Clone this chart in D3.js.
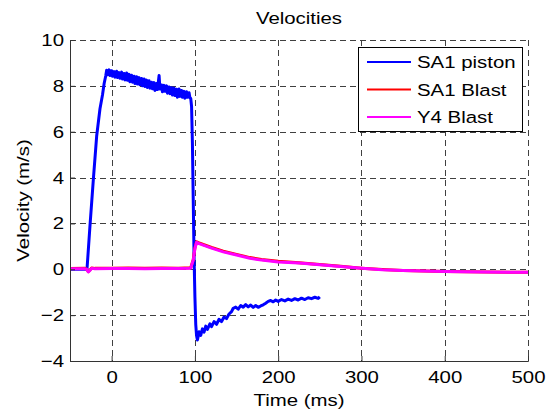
<!DOCTYPE html>
<html>
<head>
<meta charset="utf-8">
<script src="https://cdn.jsdelivr.net/npm/d3@7"></script>
<style>
  body { margin: 0; background: #fff; }
  text { font-family: "Liberation Sans", Arial, sans-serif; fill: #000; }
</style>
</head>
<body>
<svg id="chart" width="554" height="414"></svg>
<script>
// values
const pistonT = [-50, -30, -29.5, -26, -22, -18, -14, -11, -9, -7, -6, -5, -3, -2, 0, 1, 3, 4, 6, 7, 9, 10, 12, 13, 15, 16, 18, 19, 21, 22, 24, 25, 27, 28, 30, 31, 33, 34, 36, 37, 39, 40, 42, 43, 45, 46, 48, 49, 51, 52, 54, 55, 57, 58, 60, 61, 63, 64, 66, 67, 69, 70, 72, 73, 75, 76, 78, 79, 81, 82, 84, 85, 87, 88, 90, 91, 93, 94, 95, 96, 97, 98, 99, 100, 101, 102, 103, 104, 105, 107, 109, 111, 113, 115, 118, 120, 123, 126, 129, 132, 135, 138, 141, 144, 146, 149, 152, 155, 158, 161, 164, 167, 170, 173, 176, 179, 182, 185, 188, 191, 194, 197, 200, 204, 208, 212, 216, 220, 224, 228, 232, 236, 240, 244, 248, 250];
const pistonV = [0, 0, 0.05, 1.9, 3.9, 5.8, 7.0, 7.6, 8.1, 8.45, 8.68, 8.48, 8.7, 8.45, 8.66, 8.42, 8.62, 8.38, 8.64, 8.36, 8.58, 8.33, 8.6, 8.3, 8.54, 8.26, 8.56, 8.24, 8.5, 8.18, 8.46, 8.16, 8.42, 8.1, 8.4, 8.08, 8.36, 8.05, 8.32, 8.0, 8.3, 7.97, 8.25, 7.93, 8.22, 7.9, 8.16, 7.87, 8.14, 7.8, 8.1, 7.84, 8.45, 7.86, 8.04, 7.74, 8.02, 7.76, 8.0, 7.68, 7.95, 7.66, 7.92, 7.6, 7.9, 7.58, 7.85, 7.5, 7.86, 7.54, 7.8, 7.5, 7.76, 7.46, 7.74, 7.5, 7.7, 7.48, 7.45, 7.1, 5.5, 3.0, 0.5, -1.2, -2.4, -2.9, -3.08, -2.92, -2.72, -2.88, -2.6, -2.74, -2.48, -2.62, -2.38, -2.5, -2.28, -2.4, -2.18, -2.28, -2.08, -2.15, -1.95, -1.85, -1.7, -1.65, -1.74, -1.58, -1.65, -1.54, -1.64, -1.56, -1.66, -1.58, -1.66, -1.6, -1.55, -1.48, -1.4, -1.36, -1.42, -1.34, -1.4, -1.32, -1.38, -1.3, -1.36, -1.28, -1.34, -1.26, -1.32, -1.24, -1.28, -1.22, -1.27, -1.2, -1.22];

const sa1BlastT = [-50, -32, -30, -28, -26, -24, -20, 0, 20, 40, 60, 80, 95, 98, 100, 102, 105, 110, 120, 134, 150, 166, 180, 200, 225, 250, 275, 300, 325, 350, 375, 400, 450, 500];
const sa1BlastV = [0.03, 0.04, 0.01, -0.1, -0.03, 0.06, 0.04, 0.05, 0.06, 0.04, 0.06, 0.05, 0.07, 0.42, 0.93, 1.2, 1.15, 1.08, 0.95, 0.79, 0.65, 0.51, 0.43, 0.35, 0.29, 0.21, 0.13, 0.05, -0.01, -0.05, -0.08, -0.1, -0.12, -0.13];

const y4BlastT = [-50, -32, -30, -28, -26, -24, -20, 0, 20, 40, 60, 80, 95, 98, 100, 102, 105, 110, 120, 134, 150, 166, 180, 200, 225, 250, 275, 300, 325, 350, 375, 400, 450, 500];
const y4BlastV = [0.02, 0.02, 0.0, -0.12, -0.05, 0.04, 0.02, 0.03, 0.03, 0.02, 0.03, 0.03, 0.05, 0.4, 0.9, 1.18, 1.12, 1.05, 0.92, 0.76, 0.62, 0.48, 0.4, 0.32, 0.27, 0.2, 0.12, 0.04, -0.02, -0.05, -0.08, -0.1, -0.12, -0.13];

const seriesNames = ["SA1 piston", "SA1 Blast", "Y4 Blast"];
const seriesColors = ["#0000ff", "#ff0000", "#ff00ff"];
const xTicks = [0, 100, 200, 300, 400, 500];
const yTicks = [-4, -2, 0, 2, 4, 6, 8, 10];

const margin = {top: 40, right: 26, bottom: 53, left: 70};
const width = 554, height = 414;
const innerW = width - margin.left - margin.right;
const innerH = height - margin.top - margin.bottom;
const stretch = "scale(1.2,1)";

const svg = d3.select("#chart");
const chart = svg.append("g")
    .attr("transform", `translate(${margin.left},${margin.top})`);

const xscale = d3.scaleLinear().domain([-50, 500]).range([0, innerW]);
const yscale = d3.scaleLinear().domain([-4, 10]).range([innerH, 0]);

// dashed grid
chart.append("g").selectAll("line")
    .data(xTicks)
    .join("line")
    .attr("x1", d => Math.round(xscale(d)) + 0.5)
    .attr("x2", d => Math.round(xscale(d)) + 0.5)
    .attr("y1", 0).attr("y2", innerH)
    .attr("stroke", "#404040").attr("stroke-dasharray", "6,4");
chart.append("g").selectAll("line")
    .data(yTicks)
    .join("line")
    .attr("y1", d => Math.round(yscale(d)) + 0.5)
    .attr("y2", d => Math.round(yscale(d)) + 0.5)
    .attr("x1", 0).attr("x2", innerW)
    .attr("stroke", "#404040").attr("stroke-dasharray", "6,4");

// series
const line = d3.line().x(d => xscale(d[0])).y(d => yscale(d[1]));
const series = [
    d3.zip(pistonT, pistonV),
    d3.zip(sa1BlastT, sa1BlastV),
    d3.zip(y4BlastT, y4BlastV)
];
series.forEach((s, i) => {
    chart.append("path")
        .datum(s)
        .attr("d", line)
        .attr("fill", "none")
        .attr("stroke", seriesColors[i])
        .attr("stroke-width", 3)
        .attr("stroke-linejoin", "round");
});

// axes
const xaxis = d3.axisBottom(xscale).tickValues(xTicks).tickSize(-5).tickPadding(10);
const yaxis = d3.axisLeft(yscale).tickValues(yTicks).tickSize(-5).tickPadding(5);

const xg = chart.append("g")
    .attr("transform", `translate(0,${innerH})`)
    .call(xaxis);
const yg = chart.append("g").call(yaxis);

[xg, yg].forEach(g => {
    g.select(".domain").attr("stroke", "#333");
    g.selectAll(".tick line").attr("stroke", "#333");
    g.selectAll(".tick text")
        .attr("font-size", 17)
        .attr("font-family", "Liberation Sans, Arial, sans-serif")
        .attr("fill", "#000")
        .attr("transform", stretch);
});

// titles
svg.append("text")
    .attr("transform", `translate(${margin.left + innerW / 2},24) ${stretch}`)
    .attr("text-anchor", "middle")
    .attr("font-size", 17)
    .text("Velocities");

svg.append("text")
    .attr("transform", `translate(${margin.left + innerW / 2},406) ${stretch}`)
    .attr("text-anchor", "middle")
    .attr("font-size", 17)
    .text("Time (ms)");

svg.append("text")
    .attr("transform", `translate(29,${margin.top + innerH / 2}) rotate(-90) ${stretch}`)
    .attr("text-anchor", "middle")
    .attr("font-size", 17)
    .text("Velocity (m/s)");

// legend
const legend = svg.append("g").attr("transform", "translate(358,47)");
legend.append("rect")
    .attr("x", 0.5).attr("y", 0.5)
    .attr("width", 164).attr("height", 84)
    .attr("fill", "#fff").attr("stroke", "#000");
seriesNames.forEach((name, i) => {
    const y = 15 + i * 27.5;
    legend.append("line")
        .attr("x1", 9).attr("x2", 53)
        .attr("y1", y).attr("y2", y)
        .attr("stroke", seriesColors[i]).attr("stroke-width", 2);
    legend.append("text")
        .attr("transform", `translate(59,${y + 6}) ${stretch}`)
        .attr("font-size", 17)
        .text(name);
});
</script>
</body>
</html>
